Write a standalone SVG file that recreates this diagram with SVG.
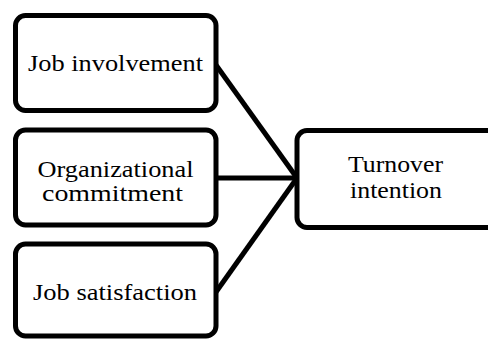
<svg xmlns="http://www.w3.org/2000/svg" width="488" height="340" viewBox="0 0 488 340">
<style>
.box{fill:#fff;stroke:#000;stroke-width:5}
.t{font-family:"Liberation Serif","Times New Roman",serif;font-size:24px;fill:#000;text-anchor:middle}
.c{stroke:#000;stroke-width:5;fill:none}
</style>
<rect width="488" height="340" fill="#fff"/>
<g id="connectors">
<line class="c" x1="216" y1="65" x2="297" y2="178"/>
<line class="c" x1="216" y1="178" x2="297" y2="178"/>
<line class="c" x1="216" y1="292" x2="297" y2="178"/>
</g>
<g id="job-involvement">
<rect class="box" x="15.5" y="15.5" width="200.5" height="95" rx="10"/>
<text class="t" x="115.5" y="71" textLength="175" lengthAdjust="spacingAndGlyphs">Job involvement</text>
</g>
<g id="organizational-commitment">
<rect class="box" x="15.5" y="130" width="200.5" height="95" rx="10"/>
<text class="t" x="115.5" y="177" textLength="156" lengthAdjust="spacingAndGlyphs">Organizational</text>
<text class="t" x="112.5" y="201" textLength="141" lengthAdjust="spacingAndGlyphs">commitment</text>
</g>
<g id="job-satisfaction">
<rect class="box" x="15.5" y="244" width="200.5" height="92" rx="10"/>
<text class="t" x="115" y="300" textLength="164" lengthAdjust="spacingAndGlyphs">Job satisfaction</text>
</g>
<g id="turnover-intention">
<rect class="box" x="297" y="130.5" width="210" height="97" rx="10"/>
<text class="t" x="395.5" y="172" textLength="95" lengthAdjust="spacingAndGlyphs">Turnover</text>
<text class="t" x="396" y="198" textLength="92" lengthAdjust="spacingAndGlyphs">intention</text>
</g>
</svg>
